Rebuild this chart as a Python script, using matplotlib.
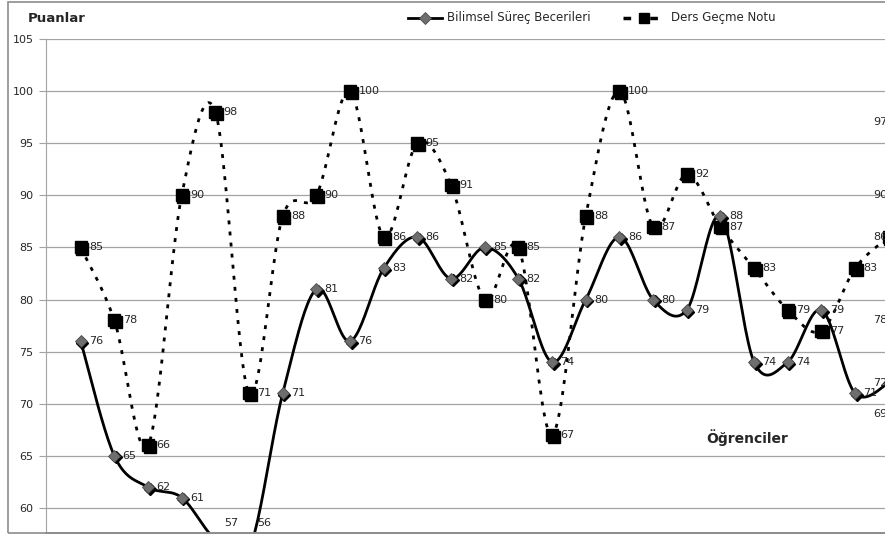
import matplotlib
matplotlib.use("Agg")
import matplotlib.pyplot as plt
from matplotlib.lines import Line2D
from matplotlib.patches import Rectangle
import matplotlib.transforms as mtransforms
import numpy as np

# values (one point per student)
bilimsel = [76, 65, 62, 61, 57, 56, 71, 81, 76, 83, 86, 82, 85, 82, 74, 80, 86, 80, 79, 88, 74, 74, 79, 71, 72]
ders = [85, 78, 66, 90, 98, 71, 88, 90, 100, 86, 95, 91, 80, 85, 67, 88, 100, 87, 92, 87, 83, 79, 77, 83, 86]
edge_labels = [97, 90, 78, 69]
yticks = [60, 65, 70, 75, 80, 85, 90, 95, 100, 105]
series_names = ["Bilimsel Süreç Becerileri", "Ders Geçme Notu"]

W, H = 885, 538
TXT = "#262626"
GRID = "#a3a3a3"


def px(x, y):
    return x / W, 1 - y / H


def smooth(ys, n=24):
    # Excel-style smoothed line: cubic Bezier through each pair of points
    xs = np.arange(len(ys), dtype=float)
    ys = np.asarray(ys, dtype=float)
    px_, py_ = np.r_[xs[0], xs, xs[-1]], np.r_[ys[0], ys, ys[-1]]
    outx, outy = [], []
    t = np.linspace(0, 1, n)
    for i in range(1, len(xs)):
        p0 = np.array([px_[i - 1], py_[i - 1]])
        p1 = np.array([px_[i], py_[i]])
        p2 = np.array([px_[i + 1], py_[i + 1]])
        p3 = np.array([px_[i + 2], py_[i + 2]])
        c1 = p1 + (p2 - p0) / 6
        c2 = p2 - (p3 - p1) / 6
        b = ((1 - t) ** 3)[:, None] * p1 + (3 * (1 - t) ** 2 * t)[:, None] * c1 \
            + (3 * (1 - t) * t ** 2)[:, None] * c2 + (t ** 3)[:, None] * p2
        outx.extend(b[:, 0])
        outy.extend(b[:, 1])
    return np.array(outx), np.array(outy)


fig = plt.figure(figsize=(W / 100, H / 100), dpi=100)
fig.patch.set_facecolor("white")

# outer chart border
fig.add_artist(Rectangle(px(8, 533), (W + 20 - 8) / W, (533 - 2) / H,
                         transform=fig.transFigure, fill=False,
                         edgecolor="#8c8c8c", lw=1.2))

left, top, bottom, right = 46, 39, 533, 905
ax = fig.add_axes([left / W, 1 - bottom / H, (right - left) / W, (bottom - top) / H])
step = 33.67
x0 = 80.7
ax.set_xlim(-(x0 - left) / step, -(x0 - left) / step + (right - left) / step)
ymin = 60 - (bottom - 508) / 10.42
ax.set_ylim(ymin, 105)

ax.set_yticks(yticks)
ax.set_yticklabels([str(v) for v in yticks], fontsize=8, color=TXT)
ax.tick_params(axis="y", length=5, color=GRID, pad=4)
ax.set_xticks([])
ax.yaxis.grid(True, color=GRID, lw=0.9)
ax.set_axisbelow(True)
for s in ["top", "right"]:
    ax.spines[s].set_visible(False)
ax.spines["left"].set_color(GRID)
ax.spines["bottom"].set_color("#8c8c8c")
ax.spines["bottom"].set_linewidth(1.2)

idx = np.arange(len(bilimsel))
shadow = mtransforms.offset_copy(ax.transData, fig=fig, x=1.6, y=-1.6, units="dots")

sx, sy = smooth(ders)
ax.plot(sx, sy, color="black", lw=2.0, linestyle=(0, (1.4, 2.6)), dash_capstyle="butt")
ax.plot(idx, ders, "s", color="black", ms=8, transform=shadow, zorder=4)
ax.plot(idx, ders, "s", color="black", ms=8, zorder=5)

bx, by = smooth(bilimsel)
ax.plot(bx, by, color="black", lw=2.0)
ax.plot(idx, bilimsel, "D", color="black", ms=6.5, transform=shadow, zorder=6)
ax.plot(idx, bilimsel, "D", color="#6e6e6e", mec="#4a4a4a", mew=0.6, ms=6.5, zorder=7)

label_floor = 105 - (523 - 39) / 10.42
last = len(bilimsel) - 1


def put_labels(vals):
    for i, v in enumerate(vals):
        off = -11.5 if i == last else 6
        ax.annotate(str(v), (i, max(v, label_floor)), xytext=(off, 0),
                    textcoords="offset points", ha="left", va="center",
                    fontsize=8, color=TXT, annotation_clip=False, zorder=8)


put_labels(bilimsel)
put_labels(ders)
for v in edge_labels:
    ax.annotate(str(v), (last, v), xytext=(-11.5, 0), textcoords="offset points",
                ha="left", va="center", fontsize=8, color=TXT,
                annotation_clip=False)

# axis titles
fig.text(*px(28, 18), "Puanlar", fontsize=9.5, fontweight="bold", color=TXT,
         ha="left", va="center")
ax.text(*((706 - left) / (right - left), 1 - (438 - top) / (bottom - top)), "Öğrenciler",
        transform=ax.transAxes, fontsize=10, fontweight="bold", color=TXT,
        ha="left", va="center")

# legend
ly = 18
fig.add_artist(Line2D([px(408, 0)[0], px(442, 0)[0]], [px(0, ly)[1]] * 2,
                      transform=fig.transFigure, color="black", lw=2))
fig.add_artist(Line2D([px(425, 0)[0]], [px(0, ly)[1]], transform=fig.transFigure,
                      marker="D", ms=6, color="#6e6e6e", mec="#4a4a4a", mew=0.6))
fig.text(*px(447, ly), series_names[0], fontsize=8.5, color=TXT, ha="left", va="center")
fig.add_artist(Line2D([px(623, 0)[0], px(660, 0)[0]], [px(0, ly)[1]] * 2,
                      transform=fig.transFigure, color="black", lw=2.5,
                      linestyle=(0, (2.2, 5.5))))
fig.add_artist(Line2D([px(644, 0)[0]], [px(0, ly)[1]], transform=fig.transFigure,
                      marker="s", ms=7, color="black"))
fig.text(*px(671, ly), series_names[1], fontsize=8.5, color=TXT, ha="left", va="center")

fig.savefig("out.png", dpi=100)
